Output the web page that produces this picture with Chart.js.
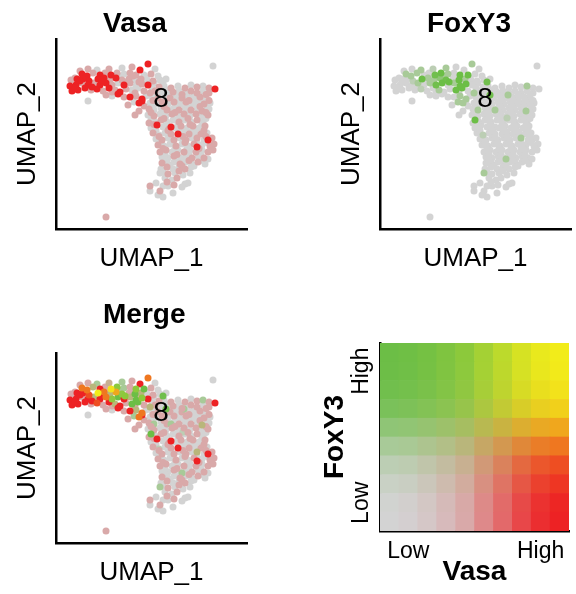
<!DOCTYPE html>
<html>
<head>
<meta charset="utf-8">
<script src="https://cdn.jsdelivr.net/npm/chart.js@4.4.1/dist/chart.umd.min.js"></script>
<style>
  html, body { margin: 0; padding: 0; background: #fff; overflow: hidden; }
  canvas { position: absolute; }
</style>
</head>
<body>
<canvas id="vasaPlot" width="252" height="280" style="left:0;top:0"></canvas>
<canvas id="foxPlot" width="252" height="280" style="left:324px;top:0"></canvas>
<canvas id="mergePlot" width="252" height="304" style="left:0;top:290px"></canvas>
<canvas id="blendKey" width="288" height="297" style="left:288px;top:297px"></canvas>
<script>
// cells: [UMAP_1, UMAP_2, Vasa level 0-9, FoxY3 level 0-9]
const bandCells = [
  [9.2,16.5,9,4],[6.6,16.1,0,4],[7.6,16.2,4,0],[8.4,15.9,9,0],[9.9,16.0,0,0],[5.3,16.0,4,3],[4.1,15.9,0,4],[3.2,16.0,4,0],[2.4,15.8,4,0],
  [1.9,15.1,4,0],[2.6,15.5,9,4],[3.1,15.3,9,4],[3.7,15.6,4,4],[4.4,15.4,9,0],[4.9,15.6,4,0],[5.5,15.4,9,7],[6.1,15.6,4,9],[6.8,15.5,0,4],
  [7.4,15.6,4,0],[8.0,15.4,4,9],[8.8,15.4,0,9],[9.5,15.5,4,0],[10.2,15.3,0,0],
  [1.5,14.9,4,0],[2.1,15.0,9,0],[2.7,15.0,9,0],[3.3,14.8,9,3],[4.2,15.0,9,9],[4.8,15.1,9,4],[5.4,14.9,4,4],[6.0,15.1,9,5],[6.6,14.9,4,7],
  [7.3,15.0,4,0],[7.9,14.9,0,9],[8.5,15.0,4,4],[9.1,14.9,0,0],[9.7,14.8,4,0],[10.4,14.9,0,0],[11.0,15.0,0,0],
  [1.4,14.3,9,0],[2.0,14.4,9,0],[2.6,14.6,4,0],[3.2,14.4,9,0],[3.8,14.6,4,4],[4.4,14.4,9,0],[5.0,14.6,9,4],[5.6,14.4,4,7],[6.2,14.6,0,9],
  [6.8,14.4,9,0],[7.4,14.6,4,4],[8.0,14.3,0,9],[8.6,14.5,4,9],[9.2,14.4,9,0],[9.8,14.6,0,0],[10.7,14.7,0,7],
  [1.6,13.8,9,0],[2.2,13.9,9,0],[1.9,14.1,9,0],[2.9,14.1,9,0],[3.5,13.9,4,0],[4.1,14.0,9,3],[4.7,13.8,4,0],[5.3,14.1,9,0],[5.9,13.9,4,4],
  [6.4,13.7,9,0],[7.0,14.0,4,0],[7.6,13.9,0,9],[8.2,14.1,0,9],[8.8,13.8,4,0],[9.4,13.6,4,4],
  [3.2,12.8,0,0],[5.0,13.4,4,0],[5.6,13.3,0,0],[6.2,13.5,9,0],[6.8,13.2,4,0],[7.4,13.2,9,0],[8.0,13.3,4,4],[8.6,13.0,9,4],
  [7.8,12.7,0,4],[8.3,12.6,9,4],[8.8,12.3,4,0],[7.2,12.4,4,0],[8.6,12.8,9,0],[7.9,11.4,4,0],[8.3,11.8,4,0],
  [2.4,14.8,9,0],[3.6,14.2,9,0],[5.2,15.3,4,0],[6.4,15.3,0,4],[7.7,15.3,4,0],[9.0,15.1,0,0],[4.6,14.9,9,0],
  [6.9,14.7,4,9],[8.3,14.7,4,0],[5.6,13.7,4,0],[7.9,13.6,4,0],[9.0,13.3,0,0],[9.6,14.1,0,0],[10.3,14.2,4,0]
];
const bodyCells = [
  [10.8,14.3,0,0],[11.5,14.1,4,0],[12.2,14.3,0,0],[12.9,14.1,4,0],[13.5,14.4,0,0],[14.1,14.2,4,0],[14.7,14.3,0,4],[15.3,14.1,4,0],[15.9,14.0,9,0],
  [9.9,13.8,4,0],[10.5,13.7,0,0],[11.1,13.9,0,0],[11.7,13.7,4,0],[12.3,13.8,0,0],[12.9,13.6,0,0],[13.5,13.8,4,0],[14.1,13.6,4,0],[14.7,13.8,0,0],[15.3,13.6,4,0],
  [9.6,13.2,0,0],[10.2,13.1,4,0],[11.0,13.4,0,7],[11.4,13.1,4,0],[12.0,13.3,0,0],[12.6,13.1,4,0],[12.8,13.4,0,4],[13.2,13.2,0,0],[13.8,13.0,0,0],[14.4,13.2,4,0],[15.0,13.1,0,0],
  [9.4,12.6,0,0],[10.0,12.5,0,0],[10.6,12.7,4,0],[11.2,12.5,0,0],[11.8,12.7,4,0],[12.4,12.5,0,0],[13.0,12.7,4,0],[13.6,12.5,0,0],[14.2,12.6,0,0],[14.8,12.5,4,0],[15.4,12.6,0,0],
  [9.3,12.0,4,0],[9.8,11.9,0,4],[10.5,12.1,0,0],[11.1,11.9,4,0],[11.5,11.9,0,4],[11.8,12.1,0,0],[12.3,11.9,4,0],[12.9,12.1,0,0],[13.5,11.9,4,0],[14.1,12.1,0,0],[14.6,11.8,4,4],[15.3,12.0,0,0],
  [9.2,11.4,0,0],[9.8,11.3,4,0],[10.4,11.5,0,0],[11.0,11.3,0,0],[11.6,11.5,4,0],[12.2,11.3,0,0],[12.8,11.5,4,0],[13.4,11.3,0,0],[14.0,11.5,4,0],[14.6,11.3,0,0],[15.2,11.4,4,0],
  [9.5,10.9,0,9],[9.3,10.6,4,0],[9.9,10.7,0,0],[10.5,10.9,4,0],[11.1,10.7,0,0],[11.7,10.9,0,0],[12.3,10.7,4,0],[12.7,11.1,0,3],[12.9,10.9,0,0],[13.5,10.7,0,0],[14.1,10.9,4,0],[14.7,10.7,0,0],
  [9.5,10.1,0,0],[10.1,10.4,9,0],[10.7,10.2,0,0],[11.3,10.0,4,0],[11.5,10.2,9,0],[11.9,10.1,0,0],[12.5,10.3,4,0],[13.1,10.1,0,0],[13.7,10.3,4,0],[14.3,10.1,0,0],[14.9,10.3,4,0],
  [9.7,9.6,4,0],[10.3,9.4,0,3],[10.9,9.6,0,0],[11.5,9.5,4,0],[12.2,9.5,9,0],[12.7,9.7,0,0],[13.3,9.5,4,0],[13.9,9.7,0,0],[14.5,9.5,4,0],[15.1,9.6,0,0],
  [10.0,9.0,0,0],[10.6,8.9,4,0],[11.2,9.1,0,0],[11.8,8.9,4,0],[12.4,9.1,0,0],[13.0,8.9,4,0],[13.6,9.1,0,0],[14.1,9.1,4,4],[14.8,8.9,0,0],[15.2,8.9,9,0],[15.6,9.1,4,0],
  [10.2,8.4,4,0],[10.8,8.3,0,0],[11.4,8.5,0,0],[12.0,8.3,4,0],[12.6,8.5,0,0],[13.2,8.3,0,0],[13.8,8.5,4,0],[14.1,8.2,9,0],[14.6,8.4,0,0],[15.4,8.3,4,0],[15.8,8.5,4,0],
  [10.4,7.7,4,0],[11.0,7.9,4,0],[11.6,7.7,0,0],[12.2,7.9,0,0],[12.8,7.7,4,0],[13.4,7.9,0,0],[14.0,7.7,4,0],[14.6,7.9,0,0],[15.2,7.7,4,0],[15.7,7.9,4,0],
  [10.6,7.2,0,0],[11.2,7.1,0,0],[11.8,7.3,4,0],[12.4,7.1,0,0],[12.6,7.0,0,4],[13.0,7.3,0,0],[13.6,7.1,4,0],[14.2,7.3,0,0],[14.8,7.1,4,0],[15.2,7.0,0,0],
  [10.6,6.6,4,0],[11.2,6.5,0,0],[11.8,6.7,0,0],[12.4,6.5,4,0],[13.0,6.7,0,0],[13.6,6.5,0,0],[14.2,6.7,4,0],[14.9,6.5,0,0],
  [10.5,6.0,0,0],[11.1,6.2,4,0],[11.7,6.0,0,0],[12.3,6.2,0,0],[12.9,6.0,4,0],[13.5,6.2,0,0]
];
const bodyFillCells = [
  [10.2,13.45,0,0],[11.4,13.45,0,0],[12.6,13.45,4,0],[13.8,13.45,0,0],[15.0,13.45,4,0],
  [9.7,12.85,4,0],[10.9,12.85,0,0],[12.1,12.85,0,0],[13.3,12.85,4,0],[14.5,12.85,0,0],[15.3,12.85,4,0],
  [9.6,12.25,0,0],[10.8,12.25,4,0],[12.0,12.25,0,0],[13.2,12.25,0,0],[14.4,12.25,4,0],[15.1,12.25,0,0],
  [9.5,11.65,4,0],[10.7,11.65,0,0],[11.9,11.65,4,0],[13.1,11.65,0,0],[14.3,11.65,0,0],[15.0,11.65,4,0],
  [9.6,11.05,0,0],[10.8,11.05,4,0],[12.0,11.05,0,0],[13.2,11.05,4,0],[14.4,11.05,0,0],[15.0,11.05,0,0],
  [9.8,10.45,4,0],[11.0,10.45,0,0],[12.2,10.45,0,0],[13.4,10.45,4,0],[14.6,10.45,0,0],
  [10.0,9.85,0,0],[11.2,9.85,4,0],[12.4,9.85,0,0],[13.6,9.85,0,0],[14.8,9.85,4,0],
  [10.3,9.25,4,0],[11.5,9.25,0,0],[12.7,9.25,4,0],[13.9,9.25,0,0],[15.0,9.25,4,0],
  [10.5,8.65,0,0],[11.7,8.65,0,0],[12.9,8.65,4,0],[14.1,8.65,0,0],[15.1,8.65,0,0],
  [10.7,8.05,4,0],[11.9,8.05,0,0],[13.1,8.05,0,0],[14.3,8.05,4,0],[15.5,8.05,0,0],
  [10.9,7.45,0,0],[12.1,7.45,4,0],[13.3,7.45,0,0],[14.5,7.45,0,0],
  [10.9,6.85,0,0],[12.1,6.85,0,0],[13.3,6.85,4,0],[14.5,6.85,0,0],
  [11.4,6.3,0,0],[12.6,6.3,4,0],[13.8,6.3,0,0]
];
const tailCells = [
  [10.7,5.7,0,0],[11.2,5.5,4,0],[11.9,5.6,0,0],[12.3,5.8,4,0],[12.7,5.4,0,0],[10.4,5.6,0,4],
  [11.6,4.9,0,0],[12.1,5.1,4,0],[12.9,4.5,0,0],[12.6,4.2,0,0],[9.4,4.3,4,0],[9.4,3.8,0,0],[10.4,3.8,4,0],[10.7,4.3,0,0],
  [11.2,4.3,0,0],[11.7,3.6,0,0],[10.7,3.2,0,0],[10.2,3.4,0,0],[11.1,4.7,4,0],[10.9,5.1,0,0],[13.2,4.6,0,0],[13.4,5.6,0,0],
  [11.8,4.4,4,0],[10.0,4.6,0,0]
];
const strayCells = [[15.7,16.3,0,0],[5.0,1.2,4,0]];

const clusterNames = ['8'];
const clusterX = [10.5];
const clusterY = [12.95];

// blend key: ten expression levels per gene
const keyLevels = [0, 1, 2, 3, 4, 5, 6, 7, 8, 9];
const keyCell = [1, 1, 1, 1, 1, 1, 1, 1, 1, 1];
const keyXLabels = ['', 'Low', '', '', '', '', '', '', 'High', ''];
const keyYTicks = [1.5, 8.5];
const keyYLabels = ['Low', 'High'];

const cells = bandCells.concat(bodyCells, bodyFillCells, tailCells, strayCells);

const GREY = [211, 211, 211], RED = [237, 34, 36], GREEN = [108, 190, 70], YELLOW = [242, 236, 26];
const rampVasa = [0, 0.02, 0.07, 0.14, 0.24, 0.42, 0.6, 0.79, 0.93, 1];
const rampFox = [0, 0.02, 0.1, 0.22, 0.42, 0.66, 0.86, 0.95, 0.99, 1];

function blend(v, f) {
  const a = rampVasa[v], b = rampFox[f];
  const c = [0, 1, 2].map(k => Math.round(
    GREY[k] * (1 - a) * (1 - b) + RED[k] * a * (1 - b) + GREEN[k] * (1 - a) * b + YELLOW[k] * a * b));
  return 'rgb(' + c.join(',') + ')';
}

Chart.defaults.font.family = '"Liberation Sans", Arial, sans-serif';
Chart.defaults.color = '#000';
Chart.defaults.animation = false;

// panel title and cluster label
const panelText = {
  id: 'panelText',
  afterDatasetsDraw(chart, args, opts) {
    const {ctx, chartArea, scales: {x, y}} = chart;
    ctx.save();
    ctx.fillStyle = '#000';
    ctx.font = '28px "Liberation Sans", Arial, sans-serif';
    ctx.textAlign = 'center';
    ctx.textBaseline = 'middle';
    clusterNames.forEach((name, i) => {
      ctx.fillText(name, x.getPixelForValue(clusterX[i]), y.getPixelForValue(clusterY[i]));
    });
    ctx.font = 'bold 28px "Liberation Sans", Arial, sans-serif';
    ctx.textAlign = 'left';
    ctx.textBaseline = 'alphabetic';
    ctx.fillText(opts.title, chartArea.left + 47, chartArea.top - opts.gap);
    ctx.restore();
  }
};

function axisStyle(text, pad) {
  return {
    type: 'linear',
    grid: { display: false, drawTicks: false },
    border: { display: true, color: '#000', width: 2.5 },
    ticks: { display: false },
    title: { display: true, text: text, font: { size: 26, lineHeight: 1 }, padding: pad }
  };
}

function umapPanel(id, title, gap, top, colorOf, rankOf) {
  const order = cells.map((c, i) => i).sort((i, j) => rankOf(cells[i]) - rankOf(cells[j]) || i - j);
  const pts = order.map(i => ({ x: cells[i][0], y: cells[i][1] }));
  const cols = order.map(i => colorOf(cells[i]));
  const xAxis = axisStyle('UMAP_1', { top: 17, bottom: 0 });
  xAxis.min = 0; xAxis.max = 19.1;
  const yAxis = axisStyle('UMAP_2', { top: 14.5, bottom: 15.5 });
  yAxis.min = 0; yAxis.max = 19;
  new Chart(document.getElementById(id), {
    type: 'scatter',
    data: { datasets: [{ data: pts, backgroundColor: cols, pointRadius: 3.5, pointHoverRadius: 3.5, borderWidth: 0 }] },
    options: {
      responsive: false,
      layout: { padding: { left: 0, top: top, right: 5, bottom: 8 } },
      scales: { x: xAxis, y: yAxis },
      plugins: { legend: { display: false }, tooltip: { enabled: false }, panelText: { title: title, gap: gap } }
    },
    plugins: [panelText]
  });
}

umapPanel('vasaPlot', 'Vasa', 7.3, 39, c => blend(c[2], 0), c => c[2]);
umapPanel('foxPlot', 'FoxY3', 7.3, 39, c => blend(0, c[3]), c => c[3]);
umapPanel('mergePlot', 'Merge', 30, 63, c => blend(c[2], c[3]), c => c[2] + c[3]);

// colour key as a stacked grid of unit bars
new Chart(document.getElementById('blendKey'), {
  type: 'bar',
  data: {
    labels: keyXLabels,
    datasets: keyLevels.map(f => ({
      data: keyCell,
      backgroundColor: keyLevels.map(v => blend(v, f)),
      borderWidth: 0,
      barPercentage: 1,
      categoryPercentage: 1
    }))
  },
  options: {
    responsive: false,
    layout: { padding: { left: 0, top: 46, right: 7, bottom: 7.5 } },
    scales: {
      x: {
        stacked: true,
        grid: { display: false, drawTicks: false },
        border: { display: true, color: '#000', width: 2.5 },
        ticks: { autoSkip: false, maxRotation: 0, padding: 9.2, font: { size: 23, lineHeight: 1 } },
        title: { display: true, text: 'Vasa', font: { size: 28, weight: 'bold', lineHeight: 1 }, padding: { top: -13.9, bottom: 0 } }
      },
      y: {
        stacked: true,
        min: 0,
        max: 10,
        grid: { display: false, drawTicks: false },
        border: { display: true, color: '#000', width: 2.5 },
        afterBuildTicks: s => { s.ticks = keyYTicks.map(v => ({ value: v })); },
        ticks: {
          minRotation: 90, maxRotation: 90, crossAlign: 'center', padding: -5.1,
          font: { size: 23, lineHeight: 1 },
          callback: v => keyYLabels[keyYTicks.indexOf(v)]
        },
        title: { display: true, text: 'FoxY3', font: { size: 28, weight: 'bold', lineHeight: 1 }, padding: { top: 33, bottom: 18.2 } }
      }
    },
    plugins: { legend: { display: false }, tooltip: { enabled: false } }
  }
});
</script>
</body>
</html>
